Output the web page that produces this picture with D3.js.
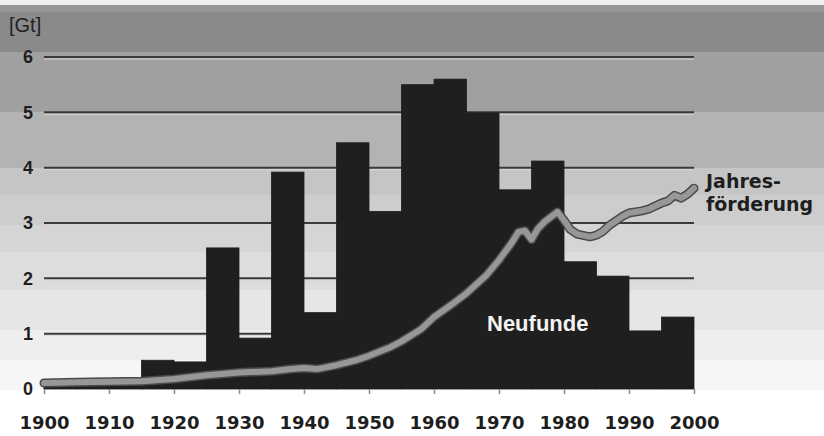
<!DOCTYPE html>
<html>
<head>
<meta charset="utf-8">
<script src="https://cdn.jsdelivr.net/npm/d3@7"></script>
<style>
  body { margin:0; background:#fff; }
  svg { display:block; }
</style>
</head>
<body>
<script>
// Neufunde (5-Jahres-Intervalle, Startjahr) in Gt
var binStart = [1900,1905,1910,1915,1920,1925,1930,1935,1940,1945,1950,1955,1960,1965,1970,1975,1980,1985,1990,1995];
var neufunde = [0.08,0.1,0.12,0.52,0.49,2.55,0.92,3.92,1.38,4.45,3.21,5.5,5.6,4.99,3.6,4.12,2.3,2.04,1.05,1.3];

// Jahresförderung in Gt
var prodYear = [1900,1905,1910,1915,1920,1925,1930,1935,1938,1940,1942,1945,1948,1950,1953,1955,1958,1960,1963,1965,1968,1970,1972,1973,1974,1975,1976,1977,1979,1980,1981,1982,1984,1985,1986,1987,1989,1990,1992,1993,1995,1996,1997,1998,1999,2000];
var prodVal  = [0.11,0.12,0.13,0.14,0.18,0.25,0.3,0.32,0.36,0.38,0.36,0.43,0.52,0.6,0.74,0.86,1.08,1.3,1.55,1.73,2.05,2.33,2.65,2.84,2.86,2.7,2.9,3.02,3.2,3.05,2.88,2.8,2.75,2.78,2.85,2.96,3.12,3.18,3.22,3.25,3.36,3.4,3.5,3.45,3.52,3.63];

var yTicks = [0,1,2,3,4,5,6];
var xTicks = [1900,1910,1920,1930,1940,1950,1960,1970,1980,1990,2000];

var W = 824, H = 436;
var x = d3.scaleLinear().domain([1900,2000]).range([44,694]);
var y = d3.scaleLinear().domain([0,6]).range([389,57]);

var svg = d3.select("body").append("svg").attr("width",W).attr("height",H);

// Hintergrund: gestufter Grauverlauf
var bands = [
  [0,5,"#f0f0f0"],[5,12,"#979797"],[12,52,"#8a8a8a"],[52,112,"#a0a0a0"],
  [112,168,"#b3b3b3"],[168,195,"#c5c5c5"],[195,225,"#cdcdcd"],[225,252,"#d5d5d5"],
  [252,290,"#dddddd"],[290,330,"#e6e6e6"],[330,360,"#eeeeee"],[360,390,"#f6f6f6"]
];
svg.selectAll("rect.band").data(bands).enter().append("rect")
  .attr("class","band")
  .attr("x",0).attr("width",W)
  .attr("y",function(d){return d[0];})
  .attr("height",function(d){return d[1]-d[0];})
  .attr("fill",function(d){return d[2];});

// Gitterlinien
var grid = svg.append("g");
grid.selectAll("line.hl").data(yTicks.slice(1)).enter().append("line")
  .attr("x1",x(1900)).attr("x2",x(2000))
  .attr("y1",function(d){return y(d)+2;}).attr("y2",function(d){return y(d)+2;})
  .attr("stroke","#d8d8d8").attr("stroke-width",1);
grid.selectAll("line.gl").data(yTicks.slice(1)).enter().append("line")
  .attr("x1",x(1900)).attr("x2",x(2000))
  .attr("y1",function(d){return y(d);}).attr("y2",function(d){return y(d);})
  .attr("stroke","#3a3a3a").attr("stroke-width",2);

// Balken Neufunde
svg.selectAll("rect.bar").data(binStart).enter().append("rect")
  .attr("class","bar")
  .attr("x",function(d){return x(d);})
  .attr("width",function(d){return x(d+5)-x(d);})
  .attr("y",function(d,i){return y(neufunde[i]);})
  .attr("height",function(d,i){return y(0)-y(neufunde[i]);})
  .attr("fill","#1f1f1f")
  .attr("stroke","#1f1f1f").attr("stroke-width",0.8);

// Jahresförderung
var line = d3.line()
  .x(function(d,i){return x(prodYear[i]);})
  .y(function(d){return y(d);});
svg.append("path").datum(prodVal).attr("d",line)
  .attr("fill","none").attr("stroke","#4a4a4a").attr("stroke-width",9)
  .attr("stroke-linecap","round").attr("stroke-linejoin","round");
svg.append("path").datum(prodVal).attr("d",line)
  .attr("fill","none").attr("stroke","#979797").attr("stroke-width",6)
  .attr("stroke-linecap","round").attr("stroke-linejoin","round");

// X-Achse
var xAxis = d3.axisBottom(x).tickValues(xTicks).tickFormat(d3.format("d")).tickSize(5).tickPadding(22);
var gx = svg.append("g").attr("transform","translate(0,389)").call(xAxis);
gx.select(".domain").remove();
gx.selectAll(".tick line").attr("stroke","#8a8a8a").attr("stroke-width",1.5);
gx.selectAll(".tick text")
  .attr("fill","#1e1e1e")
  .style("font-family","'DejaVu Sans',Verdana,sans-serif")
  .style("font-weight","bold").style("font-size","18px");

// Y-Achse
var yAxis = d3.axisLeft(y).tickValues(yTicks).tickFormat(d3.format("d")).tickSize(0).tickPadding(11);
var gy = svg.append("g").attr("transform","translate(44,0)").call(yAxis);
gy.select(".domain").remove();
gy.selectAll(".tick text")
  .attr("fill","#1e1e1e")
  .style("font-family","'Liberation Sans',Arial,sans-serif")
  .style("font-weight","bold").style("font-size","18px");

svg.append("text").attr("x",9).attr("y",32).text("[Gt]")
  .attr("fill","#222")
  .style("font-family","'Liberation Sans',Arial,sans-serif")
  .style("font-size","20px");

svg.append("text").attr("x",487).attr("y",331).text("Neufunde")
  .attr("fill","#f4f4f4")
  .style("font-family","'Liberation Sans',Arial,sans-serif")
  .style("font-weight","bold").style("font-size","22px");

var lbl = svg.append("text").attr("fill","#1e1e1e")
  .style("font-family","'DejaVu Sans',Verdana,sans-serif")
  .style("font-weight","bold").style("font-size","19px");
lbl.append("tspan").attr("x",706).attr("y",188).text("Jahres-");
lbl.append("tspan").attr("x",706).attr("y",211).text("förderung");
</script>
</body>
</html>
